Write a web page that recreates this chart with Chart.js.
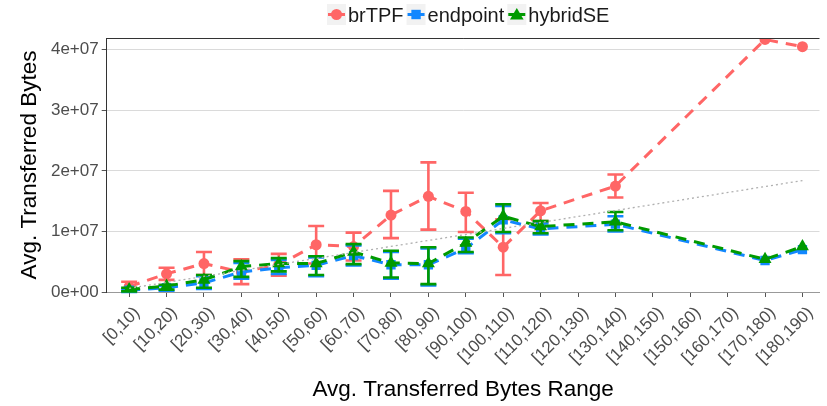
<!DOCTYPE html>
<html>
<head>
<meta charset="utf-8">
<script src="https://cdn.jsdelivr.net/npm/chart.js@4.4.1/dist/chart.umd.min.js"></script>
<style>
  html, body { margin: 0; padding: 0; background: #fff; overflow: hidden; }
</style>
</head>
<body>
<canvas id="grafica" width="827" height="406"></canvas>
<script>
// ---------- datos ----------
const categories = ["[0,10)", "[10,20)", "[20,30)", "[30,40)", "[40,50)", "[50,60)", "[60,70)",
  "[70,80)", "[80,90)", "[90,100)", "[100,110)", "[110,120)", "[120,130)", "[130,140)",
  "[140,150)", "[150,160)", "[160,170)", "[170,180)", "[180,190)"];

// brTPF
const brTPF     = [0.09e7, 0.30e7, 0.47e7, 0.33e7, 0.45e7, 0.78e7, 0.75e7, 1.27e7, 1.58e7, 1.33e7, 0.74e7, 1.34e7, null, 1.75e7, null, null, null, 4.17e7, 4.05e7];
const brTPFLow  = [0.01e7, 0.20e7, 0.28e7, 0.13e7, 0.27e7, 0.47e7, 0.52e7, 0.89e7, 1.03e7, 0.99e7, 0.28e7, 1.17e7, null, 1.56e7, null, null, null, null, null];
const brTPFHigh = [0.17e7, 0.40e7, 0.66e7, 0.54e7, 0.63e7, 1.09e7, 0.98e7, 1.67e7, 2.14e7, 1.64e7, 1.20e7, 1.47e7, null, 1.94e7, null, null, null, null, null];

// endpoint
const endpoint     = [0.03e7, 0.07e7, 0.15e7, 0.33e7, 0.40e7, 0.44e7, 0.60e7, 0.45e7, 0.45e7, 0.72e7, 1.19e7, 1.04e7, null, 1.12e7, null, null, null, 0.52e7, 0.70e7];
const endpointLow  = [0.00e7, 0.02e7, 0.05e7, 0.22e7, 0.30e7, 0.26e7, 0.44e7, 0.22e7, 0.11e7, 0.64e7, 0.97e7, 0.95e7, null, 1.00e7, null, null, null, null, null];
const endpointHigh = [0.05e7, 0.10e7, 0.26e7, 0.48e7, 0.53e7, 0.57e7, 0.77e7, 0.66e7, 0.72e7, 0.88e7, 1.42e7, 1.13e7, null, 1.25e7, null, null, null, null, null];

// hybridSE
const hybridSE     = [0.04e7, 0.10e7, 0.20e7, 0.42e7, 0.47e7, 0.47e7, 0.66e7, 0.48e7, 0.47e7, 0.81e7, 1.25e7, 1.08e7, null, 1.16e7, null, null, null, 0.54e7, 0.75e7];
const hybridSELow  = [0.01e7, 0.04e7, 0.07e7, 0.25e7, 0.34e7, 0.28e7, 0.46e7, 0.24e7, 0.13e7, 0.66e7, 0.99e7, 0.97e7, null, 1.02e7, null, null, null, null, null];
const hybridSEHigh = [0.07e7, 0.12e7, 0.28e7, 0.51e7, 0.56e7, 0.59e7, 0.79e7, 0.68e7, 0.74e7, 0.90e7, 1.45e7, 1.17e7, null, 1.32e7, null, null, null, null, null];

// línea punteada de referencia (extremos)
const trendX = [0, 18];
const trendY = [0.06e7, 1.84e7];

// eje Y
const yTicks = [0, 1e7, 2e7, 3e7, 4e7];
const yTickLabels = ["0e+00", "1e+07", "2e+07", "3e+07", "4e+07"];

// ---------- estilos ----------
const ROJO = "#FF6666";
const AZUL = "#1287FF";
const VERDE = "#009A00";
const FUENTE = "'Liberation Sans', Arial, sans-serif";

const toPoints = (arr) => arr.map((v, i) => ({ x: i, y: v }));

// dibuja barras de error justo antes de cada serie
const errorBars = {
  id: "errorBars",
  beforeDatasetDraw(chart, args) {
    const ds = chart.data.datasets[args.index];
    if (!ds.errLow) return;
    const { ctx, scales: { x, y } } = chart;
    ctx.save();
    ctx.strokeStyle = ds.borderColor;
    ctx.lineWidth = 2.6;
    ctx.setLineDash([]);
    ds.errLow.forEach((lo, i) => {
      const hi = ds.errHigh[i];
      if (lo == null || hi == null) return;
      const px = x.getPixelForValue(i);
      const y1 = y.getPixelForValue(lo);
      const y2 = y.getPixelForValue(hi);
      ctx.beginPath();
      ctx.moveTo(px, y1); ctx.lineTo(px, y2);
      ctx.moveTo(px - 8, y1); ctx.lineTo(px + 8, y1);
      ctx.moveTo(px - 8, y2); ctx.lineTo(px + 8, y2);
      ctx.stroke();
    });
    ctx.restore();
  }
};

// marco superior + leyenda estilo ggplot
function marcador(ctx, tipo, x, y, color) {
  ctx.fillStyle = color;
  ctx.beginPath();
  if (tipo === "circle") ctx.arc(x, y, 5.5, 0, Math.PI * 2);
  else if (tipo === "rect") ctx.rect(x - 4.7, y - 4.7, 9.4, 9.4);
  else {
    ctx.moveTo(x, y - 6.5);
    ctx.lineTo(x + 6.8, y + 5);
    ctx.lineTo(x - 6.8, y + 5);
    ctx.closePath();
  }
  ctx.fill();
}

const extras = {
  id: "extras",
  afterDraw(chart) {
    const { ctx, chartArea } = chart;
    ctx.save();
    ctx.strokeStyle = "#333";
    ctx.lineWidth = 1;
    ctx.beginPath();
    ctx.moveTo(chartArea.left, chartArea.top + 0.5);
    ctx.lineTo(chartArea.right, chartArea.top + 0.5);
    ctx.stroke();

    const items = [
      { text: "brTPF", color: ROJO, tipo: "circle" },
      { text: "endpoint", color: AZUL, tipo: "rect" },
      { text: "hybridSE", color: VERDE, tipo: "triangle" }
    ];
    ctx.font = "20px " + FUENTE;
    let x = 327;
    items.forEach(it => {
      ctx.fillStyle = "#F2F2F2";
      ctx.fillRect(x, 4, 19, 21);
      ctx.strokeStyle = it.color;
      ctx.lineWidth = 3;
      ctx.beginPath();
      ctx.moveTo(x + 1, 14.5); ctx.lineTo(x + 18, 14.5);
      ctx.stroke();
      marcador(ctx, it.tipo, x + 9.5, 14.5, it.color);
      ctx.fillStyle = "#1a1a1a";
      ctx.textBaseline = "alphabetic";
      ctx.fillText(it.text, x + 21, 22);
      x += 21 + ctx.measureText(it.text).width + 3;
    });
    ctx.restore();
  }
};

const serie = (label, data, low, high, color, estilo, radio, orden) => ({
  label,
  data: toPoints(data),
  errLow: low,
  errHigh: high,
  borderColor: color,
  backgroundColor: color,
  borderWidth: 3,
  borderDash: [11, 8],
  spanGaps: true,
  tension: 0,
  pointStyle: estilo,
  pointRadius: radio,
  pointBorderWidth: 0,
  pointBackgroundColor: color,
  order: orden
});

new Chart(document.getElementById("grafica").getContext("2d"), {
  type: "line",
  data: {
    datasets: [
      {
        label: "trend",
        data: trendX.map((v, i) => ({ x: v, y: trendY[i] })),
        borderColor: "#B0B0B0",
        borderWidth: 1.3,
        borderDash: [2, 3],
        pointRadius: 0,
        order: 0
      },
      serie("hybridSE", hybridSE, hybridSELow, hybridSEHigh, VERDE, "triangle", 7.5, 1),
      serie("endpoint", endpoint, endpointLow, endpointHigh, AZUL, "rect", 6.6, 2),
      serie("brTPF", brTPF, brTPFLow, brTPFHigh, ROJO, "circle", 5.5, 3)
    ]
  },
  options: {
    responsive: false,
    devicePixelRatio: 1,
    animation: false,
    layout: { padding: { top: 38, right: 0, bottom: 0, left: 0 } },
    plugins: { legend: { display: false }, tooltip: { enabled: false } },
    scales: {
      x: {
        type: "linear",
        min: -0.6,
        max: 18.456,
        afterBuildTicks: (s) => { s.ticks = categories.map((_, i) => ({ value: i })); },
        afterFit: (s) => { s.height = 114; },
        ticks: {
          autoSkip: false,
          minRotation: 45,
          maxRotation: 45,
          padding: 6,
          labelOffset: 8,
          color: "#4d4d4d",
          font: { family: FUENTE, size: 17 },
          callback: (v, i) => categories[i]
        },
        grid: { drawOnChartArea: false, tickLength: 5, tickColor: "#555" },
        border: { color: "#999", width: 1 },
        title: {
          display: true,
          text: "Avg. Transferred Bytes Range",
          color: "#000",
          font: { family: FUENTE, size: 22.5, lineHeight: 1.2 },
          padding: { top: 0, bottom: 3 }
        }
      },
      y: {
        min: 0,
        max: 4.194e7,
        afterBuildTicks: (s) => { s.ticks = yTicks.map(v => ({ value: v })); },
        afterFit: (s) => { s.width = 106.7; },
        ticks: {
          padding: 3,
          color: "#4d4d4d",
          font: { family: FUENTE, size: 17 },
          callback: (v, i) => yTickLabels[i]
        },
        grid: { color: "#DADADA", lineWidth: 1, tickLength: 5, tickColor: "#555" },
        border: { color: "#333", width: 1 },
        title: {
          display: true,
          text: "Avg. Transferred Bytes",
          color: "#000",
          font: { family: FUENTE, size: 22.5, lineHeight: 1.2 },
          padding: { top: 16.5, bottom: 0 }
        }
      }
    }
  },
  plugins: [errorBars, extras]
});
</script>
</body>
</html>
